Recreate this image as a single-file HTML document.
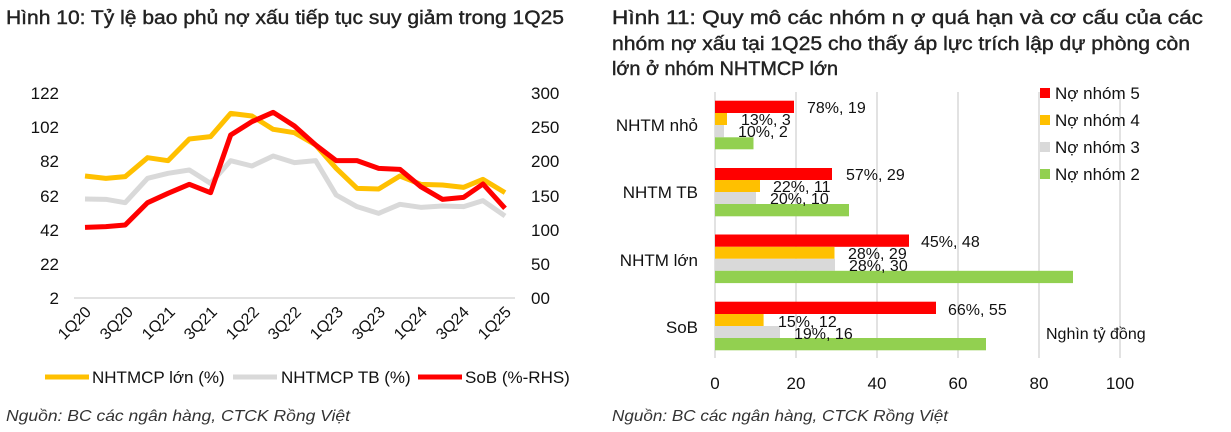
<!DOCTYPE html>
<html><head><meta charset="utf-8"><style>
body{margin:0;background:#fff;}
svg{display:block;font-family:"Liberation Sans",sans-serif;}
</style></head><body>
<svg width="1231" height="432" viewBox="0 0 1231 432" xmlns="http://www.w3.org/2000/svg">
<rect width="1231" height="432" fill="#fff"/>
<!-- titles -->
<text x="6" y="24" font-size="19" fill="#222" stroke="#222" stroke-width="0.4" textLength="558" lengthAdjust="spacingAndGlyphs">Hình 10: Tỷ lệ bao phủ nợ xấu tiếp tục suy giảm trong 1Q25</text>
<g font-size="19" fill="#222" stroke="#222" stroke-width="0.4">
<text x="612" y="24" textLength="591" lengthAdjust="spacingAndGlyphs">Hình 11: Quy mô các nhóm n ợ quá hạn và cơ cấu của các</text>
<text x="612" y="50" textLength="578" lengthAdjust="spacingAndGlyphs">nhóm nợ xấu tại 1Q25 cho thấy áp lực trích lập dự phòng còn</text>
<text x="612" y="75" textLength="226" lengthAdjust="spacingAndGlyphs">lớn ở nhóm NHTMCP lớn</text>
</g>
<!-- left chart -->
<line x1="74" y1="298" x2="515" y2="298" stroke="#d9d9d9" stroke-width="1.5"/>
<g font-size="17" fill="#111" text-anchor="end">
<text x="59" y="99">122</text><text x="59" y="133">102</text><text x="59" y="167">82</text>
<text x="59" y="202">62</text><text x="59" y="236">42</text><text x="59" y="270">22</text><text x="59" y="304">2</text>
</g>
<g font-size="17" fill="#111" text-anchor="start">
<text x="531" y="99">300</text><text x="531" y="133">250</text><text x="531" y="167">200</text>
<text x="531" y="202">150</text><text x="531" y="236">100</text><text x="531" y="270">50</text><text x="531" y="304">00</text>
</g>
<g font-size="16" fill="#111" text-anchor="end">
<text transform="translate(92,313) rotate(-45)">1Q20</text>
<text transform="translate(134,313) rotate(-45)">3Q20</text>
<text transform="translate(176,313) rotate(-45)">1Q21</text>
<text transform="translate(218,313) rotate(-45)">3Q21</text>
<text transform="translate(260,313) rotate(-45)">1Q22</text>
<text transform="translate(302,313) rotate(-45)">3Q22</text>
<text transform="translate(344,313) rotate(-45)">1Q23</text>
<text transform="translate(386,313) rotate(-45)">3Q23</text>
<text transform="translate(428,313) rotate(-45)">1Q24</text>
<text transform="translate(470,313) rotate(-45)">3Q24</text>
<text transform="translate(512,313) rotate(-45)">1Q25</text>
</g>
<g transform="translate(-3.1,70) scale(0.3864,0.33333)" fill="none" stroke-linejoin="round" stroke-width="5">
<polyline vector-effect="non-scaling-stroke" stroke="#D9D9D9" points="228,387 282,388 332,398 390,325 443,310 498,300 553,340 605,272 660,288 715,258 770,278 825,272 878,375 932,410 988,430 1043,403 1097,412 1153,408 1208,410 1258,392 1315,438"/>
<polyline vector-effect="non-scaling-stroke" stroke="#FFC000" points="228,318 282,325 332,320 390,263 443,272 498,207 553,200 605,130 660,138 715,178 770,188 825,225 878,295 932,355 988,357 1043,318 1097,343 1153,345 1208,352 1258,328 1315,368"/>
<polyline vector-effect="non-scaling-stroke" stroke="#FF0000" points="228,472 282,470 332,465 390,398 443,370 498,343 553,368 605,195 660,155 715,127 770,168 825,225 878,272 932,272 988,295 1043,298 1097,350 1153,388 1208,382 1258,342 1315,415"/>
</g>
<g font-size="17" fill="#111">
<line x1="45" y1="377" x2="89" y2="377" stroke="#FFC000" stroke-width="5"/><text x="92" y="383">NHTMCP lớn (%)</text>
<line x1="233" y1="377" x2="277" y2="377" stroke="#D9D9D9" stroke-width="5"/><text x="281" y="383">NHTMCP TB (%)</text>
<line x1="418" y1="377" x2="462" y2="377" stroke="#FF0000" stroke-width="5"/><text x="465" y="383">SoB (%-RHS)</text>
</g>
<text x="6" y="421" font-size="16" font-style="italic" fill="#333" textLength="344" lengthAdjust="spacingAndGlyphs">Nguồn: BC các ngân hàng, CTCK Rồng Việt</text>
<!-- right chart -->
<g stroke="#d9d9d9" stroke-width="1.5">
<line x1="715" y1="92" x2="715" y2="358"/><line x1="796" y1="92" x2="796" y2="358"/>
<line x1="877" y1="92" x2="877" y2="358"/><line x1="958" y1="92" x2="958" y2="358"/>
<line x1="1039" y1="92" x2="1039" y2="358"/><line x1="1120" y1="92" x2="1120" y2="358"/>
</g>
<g font-size="17" fill="#111" text-anchor="middle">
<text x="715" y="389">0</text><text x="796" y="389">20</text><text x="877" y="389">40</text>
<text x="958" y="389">60</text><text x="1039" y="389">80</text><text x="1120" y="389">100</text>
</g>
<g>
<rect x="715" y="100.7" width="79" height="12.3" fill="#FF0000"/>
<rect x="715" y="113" width="12" height="12" fill="#FFC000"/>
<rect x="715" y="125" width="9" height="12.3" fill="#D9D9D9"/>
<rect x="715" y="137.3" width="38.5" height="12" fill="#92D050"/>

<rect x="715" y="168" width="117" height="12" fill="#FF0000"/>
<rect x="715" y="180" width="45" height="12" fill="#FFC000"/>
<rect x="715" y="192" width="41" height="12" fill="#D9D9D9"/>
<rect x="715" y="204" width="134" height="12.3" fill="#92D050"/>

<rect x="715" y="234.5" width="194" height="12.3" fill="#FF0000"/>
<rect x="715" y="246.8" width="119.5" height="12" fill="#FFC000"/>
<rect x="715" y="258.8" width="120" height="12" fill="#D9D9D9"/>
<rect x="715" y="270.8" width="358" height="12.3" fill="#92D050"/>

<rect x="715" y="301.7" width="221" height="12.3" fill="#FF0000"/>
<rect x="715" y="314" width="48.6" height="12" fill="#FFC000"/>
<rect x="715" y="326" width="65" height="12" fill="#D9D9D9"/>
<rect x="715" y="338" width="271" height="12.3" fill="#92D050"/>
</g>
<g font-size="16" fill="#111">
<text x="807" y="113">78%, 19</text><text x="741" y="125">13%, 3</text><text x="738" y="137">10%, 2</text>
<text x="846" y="180">57%, 29</text><text x="773" y="192">22%, 11</text><text x="770" y="204">20%, 10</text>
<text x="921" y="247">45%, 48</text><text x="848" y="259">28%, 29</text><text x="849" y="271">28%, 30</text>
<text x="948" y="315">66%, 55</text><text x="778" y="327">15%, 12</text><text x="794" y="339">19%, 16</text>
<text x="1046" y="339">Nghìn tỷ đồng</text>
</g>
<g font-size="17" fill="#111" text-anchor="end">
<text x="698" y="131">NHTM nhỏ</text>
<text x="698" y="198">NHTM TB</text>
<text x="698" y="266">NHTM lớn</text>
<text x="698" y="333">SoB</text>
</g>
<g font-size="17" fill="#111">
<rect x="1040" y="88" width="10" height="10" fill="#FF0000"/><text x="1055" y="99">Nợ nhóm 5</text>
<rect x="1040" y="115" width="10" height="10" fill="#FFC000"/><text x="1055" y="126">Nợ nhóm 4</text>
<rect x="1040" y="142" width="10" height="10" fill="#D9D9D9"/><text x="1055" y="153">Nợ nhóm 3</text>
<rect x="1040" y="169" width="10" height="10" fill="#92D050"/><text x="1055" y="180">Nợ nhóm 2</text>
</g>
<text x="612" y="421" font-size="16" font-style="italic" fill="#333" textLength="336" lengthAdjust="spacingAndGlyphs">Nguồn: BC các ngân hàng, CTCK Rồng Việt</text>
</svg>
</body></html>
